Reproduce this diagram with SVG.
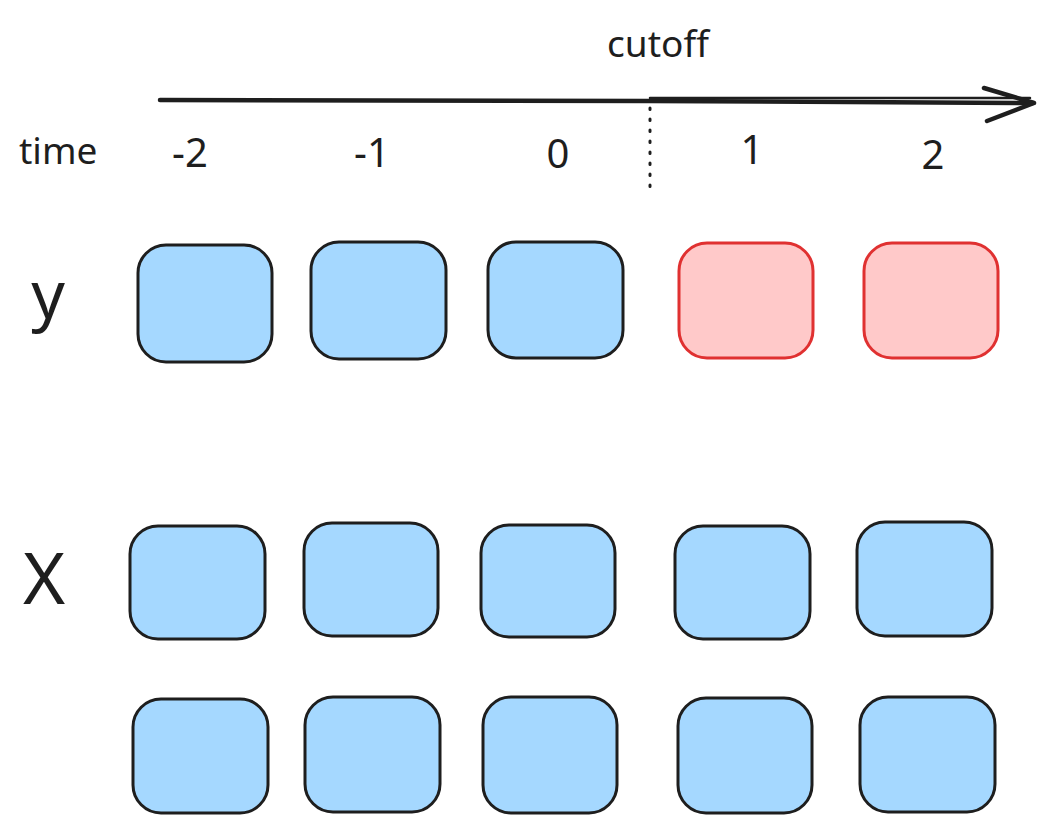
<svg xmlns="http://www.w3.org/2000/svg" width="1057" height="834" viewBox="0 0 1057 834">
<style>
.t{font-family:"Noto Sans","Open Sans",sans-serif;fill:#1e1e1e}
.s{font-size:37px}
.d{font-size:40px}
.b{fill:#a5d8ff;stroke:#1e1e1e;stroke-width:3}
.r{fill:#ffc9c9;stroke:#e03131;stroke-width:3}
.ln{fill:none;stroke:#1e1e1e;stroke-linecap:round;stroke-linejoin:round}
</style>
<rect width="1057" height="834" fill="#ffffff"/>
<g id="labels">
<text class="t s" x="658" y="57" text-anchor="middle">cutoff</text>
<text class="t s" x="19" y="164">time</text>
<text class="t d" x="190" y="167" text-anchor="middle">-2</text>
<text class="t d" x="372" y="167" text-anchor="middle">-1</text>
<text class="t d" x="558" y="168" text-anchor="middle">0</text>
<text class="t d" x="752" y="164" text-anchor="middle">1</text>
<text class="t d" x="933" y="169" text-anchor="middle">2</text>
<text class="t" x="48" y="318" font-size="66" text-anchor="middle">y</text>
<text class="t" x="44" y="604" font-size="72" text-anchor="middle">X</text>
</g>
<g id="connectors">
<path class="ln" d="M160 100 L650 101 L1033 103" stroke-width="4.5"/>
<path class="ln" d="M650 98 L1030 98" stroke-width="2.5"/>
<path class="ln" d="M984 88 L1034 103 L987 121" stroke-width="4.5"/>
<line x1="650" y1="108" x2="650" y2="196" stroke="#1e1e1e" stroke-width="3" stroke-dasharray="1.5 9.5" stroke-linecap="round"/>
</g>
<g id="y-2"><rect class="b" x="138" y="245" width="134" height="117" rx="28"/></g>
<g id="y-1"><rect class="b" x="311" y="242" width="135" height="117" rx="28"/></g>
<g id="y0"><rect class="b" x="488" y="242" width="135" height="116" rx="28"/></g>
<g id="y1"><rect class="r" x="679" y="243" width="134" height="115" rx="28"/></g>
<g id="y2"><rect class="r" x="864" y="243" width="134" height="115" rx="28"/></g>
<g id="xa-2"><rect class="b" x="130" y="526" width="135" height="113" rx="28"/></g>
<g id="xa-1"><rect class="b" x="304" y="523" width="134" height="113" rx="28"/></g>
<g id="xa0"><rect class="b" x="481" y="525" width="134" height="112" rx="28"/></g>
<g id="xa1"><rect class="b" x="675" y="526" width="135" height="113" rx="28"/></g>
<g id="xa2"><rect class="b" x="857" y="522" width="135" height="114" rx="28"/></g>
<g id="xb-2"><rect class="b" x="133" y="699" width="135" height="114" rx="28"/></g>
<g id="xb-1"><rect class="b" x="305" y="697" width="135" height="115" rx="28"/></g>
<g id="xb0"><rect class="b" x="483" y="697" width="134" height="116" rx="28"/></g>
<g id="xb1"><rect class="b" x="678" y="698" width="134" height="115" rx="28"/></g>
<g id="xb2"><rect class="b" x="860" y="697" width="135" height="115" rx="28"/></g>
</svg>
